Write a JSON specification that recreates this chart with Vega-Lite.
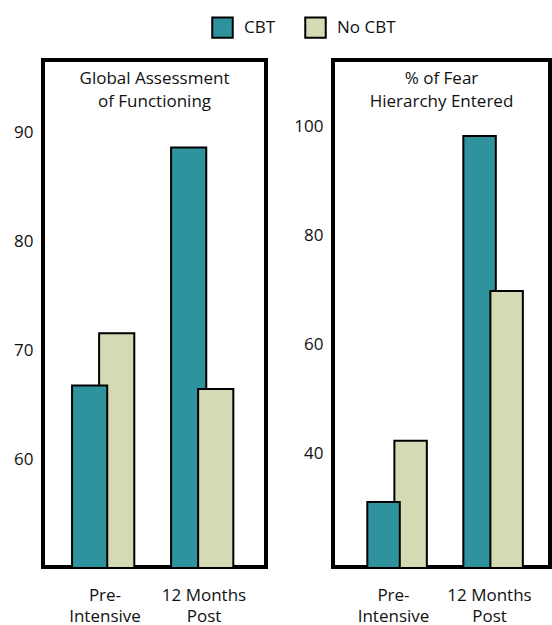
{
  "$schema": "https://vega.github.io/schema/vega-lite/v6.json",
  "padding": {"left": 11, "top": 16, "right": 0, "bottom": 0},
  "background": "white",
  "datasets": {
    "gaf": [
      {"time": "Pre-Intensive", "group": "No CBT", "value": 71.6},
      {"time": "Pre-Intensive", "group": "CBT", "value": 66.8},
      {"time": "12 Months Post", "group": "CBT", "value": 88.6},
      {"time": "12 Months Post", "group": "No CBT", "value": 66.5}
    ],
    "fear": [
      {"time": "Pre-Intensive", "group": "No CBT", "value": 42.4},
      {"time": "Pre-Intensive", "group": "CBT", "value": 31.2},
      {"time": "12 Months Post", "group": "CBT", "value": 98.2},
      {"time": "12 Months Post", "group": "No CBT", "value": 69.8}
    ]
  },
  "hconcat": [
    {
      "width": 223,
      "height": 507,
      "data": {"name": "gaf"},
      "title": {"text": ["Global Assessment", "of Functioning"], "offset": -51, "lineHeight": 23},
      "mark": {"type": "bar", "width": {"band": 1.3}, "stroke": "black", "strokeWidth": 2, "clip": true},
      "encoding": {
        "x": {"field": "time", "type": "nominal", "sort": ["Pre-Intensive", "12 Months Post"],
              "scale": {"paddingInner": 0, "paddingOuter": 0.126}},
        "xOffset": {"field": "group", "type": "nominal", "sort": ["CBT", "No CBT"],
                    "scale": {"paddingInner": 0, "paddingOuter": 0.83, "align": 0.7}},
        "y": {"field": "value", "type": "quantitative",
              "scale": {"domain": [50.2, 96.6], "zero": false, "nice": false},
              "axis": {"values": [60, 70, 80, 90]}},
        "color": {"field": "group", "type": "nominal", "sort": ["CBT", "No CBT"],
                  "scale": {"domain": ["CBT", "No CBT"], "range": ["#2f939e", "#d5d9b4"]},
                  "legend": {"orient": "none", "legendX": 168, "legendY": -44}}
      }
    },
    {
      "width": 217,
      "height": 507,
      "data": {"name": "fear"},
      "title": {"text": ["% of Fear", "Hierarchy Entered"], "offset": -51, "lineHeight": 23},
      "mark": {"type": "bar", "width": {"band": 1.2}, "stroke": "black", "strokeWidth": 2, "clip": true},
      "encoding": {
        "x": {"field": "time", "type": "nominal", "sort": ["Pre-Intensive", "12 Months Post"],
              "scale": {"paddingInner": 0, "paddingOuter": 0.13}},
        "xOffset": {"field": "group", "type": "nominal", "sort": ["CBT", "No CBT"],
                    "scale": {"paddingInner": 0, "paddingOuter": 0.95, "align": 0.46}},
        "y": {"field": "value", "type": "quantitative",
              "scale": {"domain": [19.3, 112.1], "zero": false, "nice": false},
              "axis": {"values": [40, 60, 80, 100]}},
        "color": {"field": "group", "type": "nominal", "sort": ["CBT", "No CBT"],
                  "scale": {"domain": ["CBT", "No CBT"], "range": ["#2f939e", "#d5d9b4"]}}
      }
    }
  ],
  "spacing": 23,
  "config": {
    "font": "Open Sans",
    "view": {"stroke": "black", "strokeWidth": 4},
    "title": {"fontSize": 17, "fontWeight": "normal", "color": "#111", "anchor": "middle", "font": "Open Sans"},
    "axis": {"domain": false, "ticks": false, "grid": false, "title": null,
             "labelFontSize": 17, "labelColor": "#111", "labelFont": "Open Sans"},
    "axisY": {"labelPadding": 10},
    "axisX": {"labelAngle": 0, "labelPadding": 20, "labelBaseline": "top", "labelLineHeight": 21,
              "labelExpr": "datum.value == 'Pre-Intensive' ? ['Pre-', 'Intensive'] : ['12 Months', 'Post']"},
    "legend": {"direction": "horizontal", "title": null, "symbolType": "square",
               "symbolSize": 420, "symbolStrokeColor": "black", "symbolStrokeWidth": 2,
               "symbolOpacity": 1, "labelFontSize": 17, "labelColor": "#111", "labelFont": "Open Sans",
               "columnPadding": 25, "labelOffset": 10}
  }
}
